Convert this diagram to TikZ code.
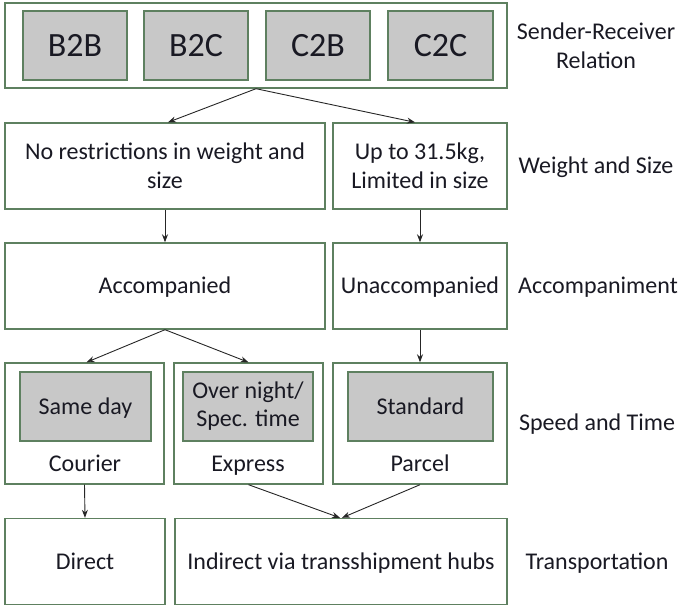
\documentclass[tikz,border=0pt]{standalone}
\usepackage{fontspec}
\setmainfont{Carlito}
\usetikzlibrary{arrows.meta}
\definecolor{bordc}{RGB}{94,128,96}
\definecolor{grayc}{RGB}{200,200,200}
\definecolor{txtc}{RGB}{25,25,35}
\tikzset{
  box/.style={draw=bordc, line width=1.4pt, fill=white, inner sep=0pt, text=txtc,
    font=\fontsize{24}{29}\selectfont, align=center},
  gbox/.style={box, fill=grayc},
  lbl/.style={inner sep=0pt, text=txtc, font=\fontsize{24}{29}\selectfont, align=center},
  oneline/.style={text height=19pt, text depth=4pt},
  arr/.style={-{Stealth[length=8pt,width=6pt]}, line width=0.9pt, draw=black!85}
}
\begin{document}
\begin{tikzpicture}[x=1pt,y=-1pt]
\useasboundingbox (0,0) rectangle (680,605);
% row 1
\node[box, minimum width=502, minimum height=85] (top) at (256,45.5) {};
\node[gbox, minimum width=104, minimum height=69, font=\fontsize{34}{40}\selectfont] (b2b) at (75,45.5) {B2B};
\node[gbox, minimum width=104, minimum height=69, font=\fontsize{34}{40}\selectfont] (b2c) at (196,45.5) {B2C};
\node[gbox, minimum width=104, minimum height=69, font=\fontsize{34}{40}\selectfont] (c2b) at (318,45.5) {C2B};
\node[gbox, minimum width=105, minimum height=69, font=\fontsize{34}{40}\selectfont] (c2c) at (440.5,45.5) {C2C};
% row 2
\node[box, minimum width=320, minimum height=86] (r2l) at (165,166) {No restrictions in weight and\\size};
\node[box, minimum width=174, minimum height=86] (r2r) at (420,166) {Up to 31.5kg,\\Limited in size};
% row 3
\node[box, oneline, minimum width=320, minimum height=86] (r3l) at (165,286) {Accompanied};
\node[box, oneline, minimum width=174, minimum height=86] (r3r) at (420,286) {Unaccompanied};
% row 4
\node[box, minimum width=159, minimum height=121] (r4l) at (84.5,423.5) {};
\node[box, minimum width=149, minimum height=121] (r4m) at (248.5,423.5) {};
\node[box, minimum width=174, minimum height=121] (r4r) at (420,423.5) {};
\node[gbox, oneline, minimum width=131, minimum height=69] (sd) at (85.5,406.5) {Same day};
\node[gbox, minimum width=130, minimum height=69, font=\fontsize{24}{28}\selectfont] (on) at (248,406.5) {Over night/\\Spec. time};
\node[gbox, oneline, minimum width=145, minimum height=69] (st) at (420.5,406.5) {Standard};
\node[lbl, oneline] (cou) at (85,464) {Courier};
\node[lbl, oneline] (exp) at (248,464) {Express};
\node[lbl, oneline] (par) at (420,464) {Parcel};
% row 5
\node[box, oneline, minimum width=160, minimum height=86] (r5l) at (85,561.5) {Direct};
\node[box, oneline, minimum width=332, minimum height=86] (r5m) at (341,561.5) {Indirect via transshipment hubs};
% right labels
\node[lbl] (l1) at (596,46) {Sender-Receiver\\Relation};
\node[lbl, oneline] (l2) at (596,166) {Weight and Size};
\node[lbl, oneline] (l3) at (598,286) {Accompaniment};
\node[lbl, oneline] (l4) at (597,423) {Speed and Time};
\node[lbl, oneline] (l5) at (597,562) {Transportation};
% arrows
\draw[arr] (top.south) -- ([xshift=3]r2l.north);
\draw[arr] (top.south) -- ([xshift=-5]r2r.north);
\draw[arr] (r2l.south) -- (r3l.north);
\draw[arr] (r2r.south) -- (r3r.north);
\draw[arr] (r3l.south) -- ([xshift=2]r4l.north);
\draw[arr] (r3l.south) -- (r4m.north);
\draw[arr] (r3r.south) -- (r4r.north);
\draw[arr] (r4l.south) -- (r5l.north);
\draw[arr] (r4m.south) -- ([xshift=-1]r5m.north);
\draw[arr] (r4r.south) -- ([xshift=1]r5m.north);
\end{tikzpicture}
\end{document}
